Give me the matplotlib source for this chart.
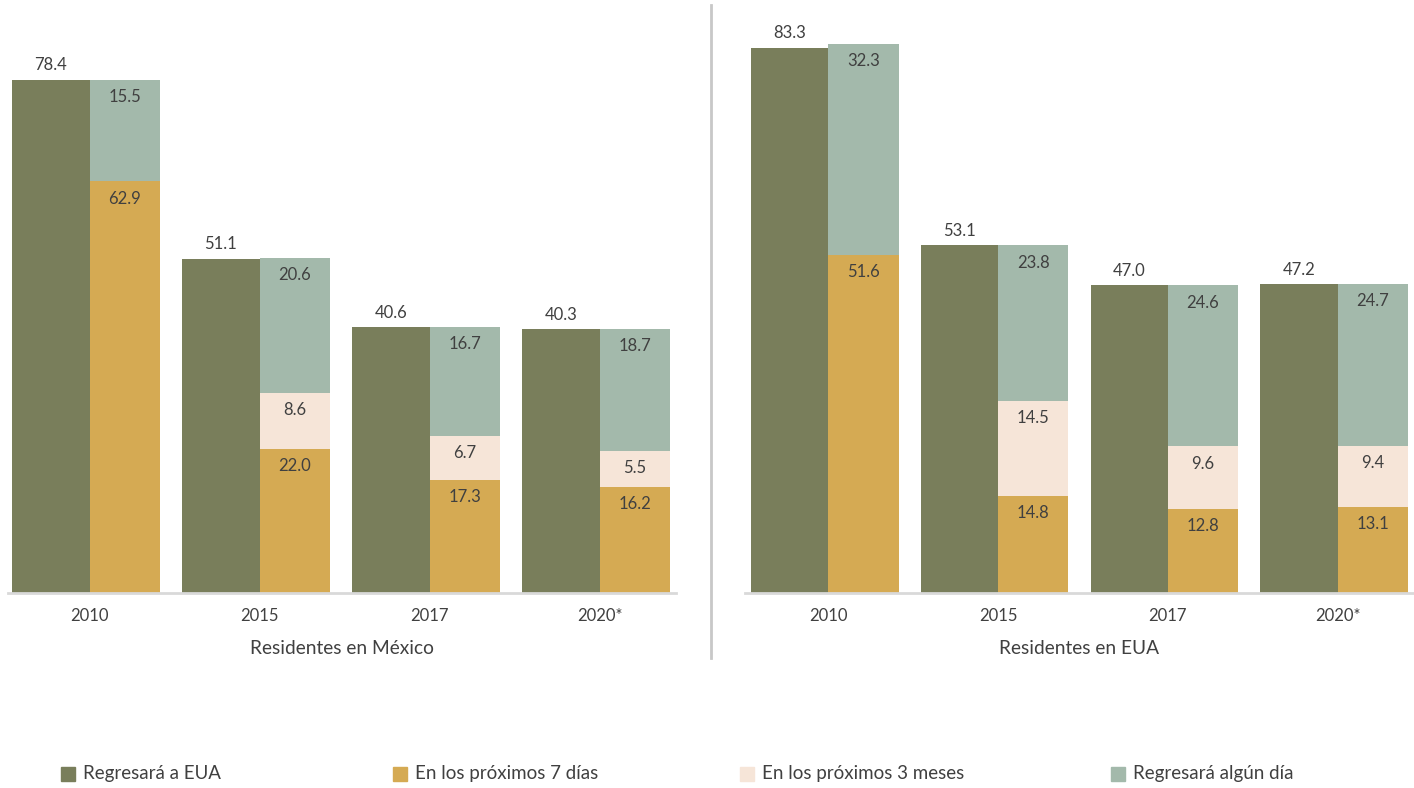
import matplotlib.pyplot as plt
from matplotlib.patches import Rectangle

plt.rcParams['font.family'] = ['Lato', 'DejaVu Sans']

years = ['2010', '2015', '2017', '2020*']

# Residentes en México
mx_total = [78.4, 51.1, 40.6, 40.3]
mx_7dias = [62.9, 22.0, 17.3, 16.2]
mx_3meses = [0, 8.6, 6.7, 5.5]
mx_algun = [15.5, 20.6, 16.7, 18.7]

# Residentes en EUA
us_total = [83.3, 53.1, 47.0, 47.2]
us_7dias = [51.6, 14.8, 12.8, 13.1]
us_3meses = [0, 14.5, 9.6, 9.4]
us_algun = [32.3, 23.8, 24.6, 24.7]

labels = ['Regresará a EUA', 'En los próximos 7 días',
          'En los próximos 3 meses', 'Regresará algún día']
colors = ['#797e5b', '#d5aa53', '#f6e5d8', '#a3b9ab']
txt = '#404040'

fig = plt.figure(figsize=(14.14, 7.88), dpi=100)
ax1 = fig.add_axes([8 / 1414, 195 / 788, 668 / 1414, 589 / 788])
ax2 = fig.add_axes([745 / 1414, 195 / 788, 669 / 1414, 589 / 788])


def panel(ax, total, d7, m3, alg, title):
    x = range(len(years))
    wg = 0.455
    w = 0.415
    ax.bar(x, total, width=-wg, align='edge', color=colors[0])
    ax.bar(x, d7, width=w, align='edge', color=colors[1])
    ax.bar(x, m3, width=w, align='edge', color=colors[2], bottom=d7)
    bot = [a + b for a, b in zip(d7, m3)]
    ax.bar(x, alg, width=w, align='edge', color=colors[3], bottom=bot)

    fs = 12
    for i in x:
        ax.text(i - wg / 2, total[i] + 1.0, f'{total[i]:.1f}', ha='center',
                va='bottom', fontsize=fs, color=txt)
        ax.text(i + w / 2, d7[i] - 1.4, f'{d7[i]:.1f}', ha='center',
                va='top', fontsize=fs, color=txt)
        if m3[i] > 0:
            ax.text(i + w / 2, bot[i] - 1.4, f'{m3[i]:.1f}', ha='center',
                    va='top', fontsize=fs, color=txt)
        ax.text(i + w / 2, bot[i] + alg[i] - 1.4, f'{alg[i]:.1f}',
                ha='center', va='top', fontsize=fs, color=txt)

    ax.set_ylim(0, 90)
    ax.set_yticks([])
    ax.set_xticks(list(x))
    ax.set_xticklabels(years, fontsize=12, color=txt)
    ax.tick_params(axis='x', length=0, pad=11)
    ax.set_xlabel(title, fontsize=13.8, color=txt, labelpad=11)
    for s in ['top', 'right', 'left']:
        ax.spines[s].set_visible(False)
    ax.spines['bottom'].set_color('#d9d9d9')
    ax.spines['bottom'].set_linewidth(2)


panel(ax1, mx_total, mx_7dias, mx_3meses, mx_algun, 'Residentes en México')
ax1.set_xlim(-0.48, 3.45)
panel(ax2, us_total, us_7dias, us_3meses, us_algun, 'Residentes en EUA')
ax2.set_xlim(-0.49, 3.45)

# separator between panels
fig.add_artist(plt.Line2D([711 / 1414, 711 / 1414], [130 / 788, 783 / 788],
                          color='#c8c8c8', linewidth=2))

# legend
leg_x = [61, 393, 740, 1111]
for lx, lab, col in zip(leg_x, labels, colors):
    fig.add_artist(Rectangle((lx / 1414, 7 / 788), 14 / 1414, 14 / 788,
                             transform=fig.transFigure, color=col))
    fig.text((lx + 22) / 1414, 14 / 788, lab, fontsize=13.5, color=txt,
             va='center', ha='left')

fig.savefig('out.png')
